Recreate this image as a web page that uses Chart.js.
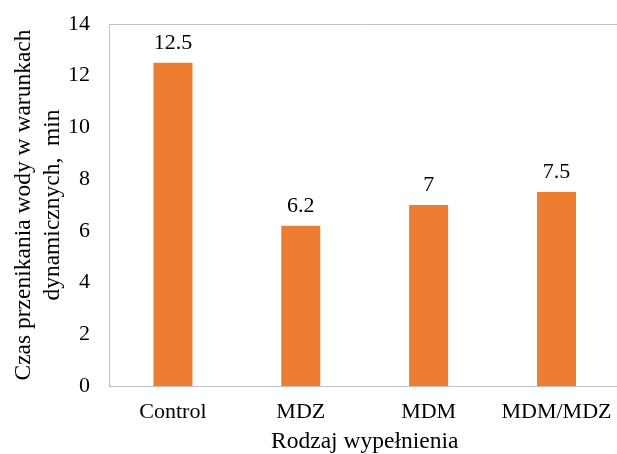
<!DOCTYPE html>
<html>
<head>
<meta charset="utf-8">
<script src="https://cdn.jsdelivr.net/npm/chart.js@4/dist/chart.umd.min.js"></script>
<style>
  html, body { margin: 0; padding: 0; background: #fff; overflow: hidden; }
  #wrap { width: 625px; height: 454px; }
</style>
</head>
<body>
<div id="wrap"><canvas id="chart" width="625" height="454"></canvas></div>
<script>
// Water penetration time under dynamic conditions per filling type
const categories = ['Control', 'MDZ', 'MDM', 'MDM/MDZ'];
const penetrationTime = [12.5, 6.2, 7, 7.5];
const yTicks = [0, 2, 4, 6, 8, 10, 12, 14];

const FONT = 'Liberation Serif';
const AXIS_GREY = '#bfbfbf';

Chart.defaults.font.family = FONT;
Chart.defaults.color = '#000';

// Value labels above each bar
const valueLabels = {
  id: 'valueLabels',
  afterDatasetsDraw(chart) {
    const { ctx } = chart;
    const meta = chart.getDatasetMeta(0);
    ctx.save();
    ctx.font = '22px "Liberation Serif"';
    ctx.fillStyle = '#000';
    ctx.textAlign = 'center';
    ctx.textBaseline = 'alphabetic';
    meta.data.forEach((bar, i) => {
      ctx.fillText(String(penetrationTime[i]), bar.x, bar.y - 14);
    });
    ctx.restore();
  }
};

// Top edge of the plot frame
const frameTop = {
  id: 'frameTop',
  beforeDatasetsDraw(chart) {
    const { ctx, chartArea: a } = chart;
    ctx.save();
    ctx.strokeStyle = AXIS_GREY;
    ctx.lineWidth = 1;
    ctx.beginPath();
    ctx.moveTo(a.left, a.top + 0.5);
    ctx.lineTo(a.right, a.top + 0.5);
    ctx.stroke();
    ctx.restore();
  }
};

new Chart(document.getElementById('chart'), {
  type: 'bar',
  data: {
    labels: categories,
    datasets: [{
      data: penetrationTime,
      backgroundColor: '#ED7D31',
      borderWidth: 0,
      categoryPercentage: 1,
      barPercentage: 0.305
    }]
  },
  options: {
    responsive: false,
    animation: false,
    layout: { padding: { top: 24, right: 4, bottom: 0, left: 0 } },
    plugins: { legend: { display: false }, tooltip: { enabled: false } },
    scales: {
      x: {
        grid: { display: false, drawTicks: false },
        border: { display: true, color: AXIS_GREY, width: 1 },
        ticks: { color: '#000', font: { family: FONT, size: 22 }, padding: 13, maxRotation: 0 },
        title: {
          display: true,
          text: 'Rodzaj wypełnienia',
          color: '#000',
          font: { family: FONT, size: 23.5 },
          padding: { top: 0, bottom: -2 }
        },
        afterFit(scale) { scale.height = 68; }
      },
      y: {
        min: 0,
        max: 14,
        afterBuildTicks(scale) { scale.ticks = yTicks.map(v => ({ value: v })); },
        grid: { display: false, drawTicks: false },
        border: { display: true, color: AXIS_GREY, width: 1 },
        ticks: { color: '#000', font: { family: FONT, size: 22 }, padding: 19 },
        title: {
          display: true,
          text: ['Czas przenikania wody w warunkach', 'dynamicznych,  min'],
          color: '#000',
          font: { family: FONT, size: 23.5, lineHeight: 1.234 },
          padding: { top: 9, bottom: 0 }
        },
        afterFit(scale) {
          scale.width = 109;
          scale.paddingTop = 0;
          scale.paddingBottom = 0;
        }
      }
    }
  },
  plugins: [valueLabels, frameTop]
});
</script>
</body>
</html>
